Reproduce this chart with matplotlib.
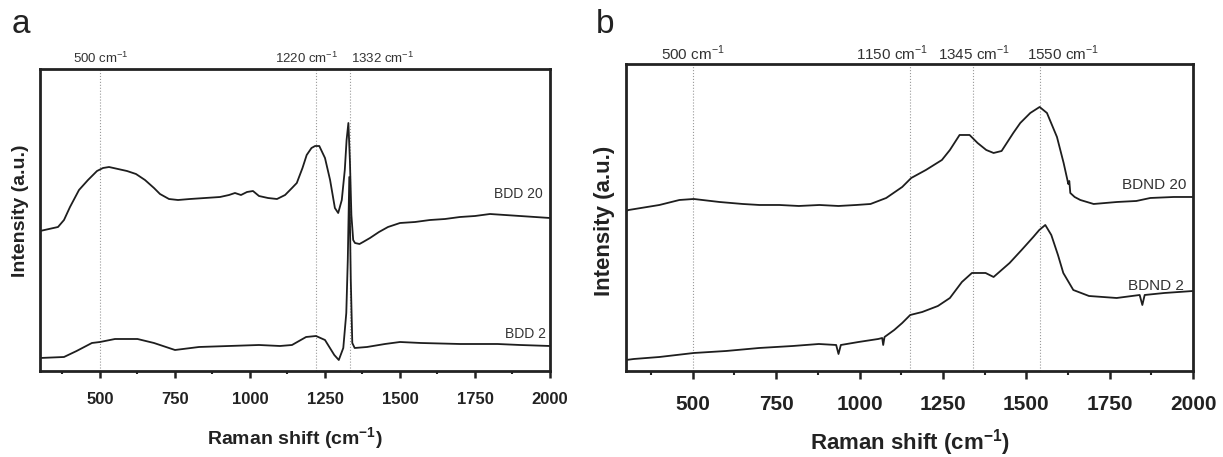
import matplotlib
matplotlib.use("Agg")
import matplotlib.pyplot as plt
import matplotlib.transforms as mtransforms

plt.rcParams['font.family'] = ['Liberation Sans', 'DejaVu Sans']
plt.rcParams['mathtext.fontset'] = 'custom'
plt.rcParams['mathtext.rm'] = 'Liberation Sans'
plt.rcParams['mathtext.bf'] = 'Liberation Sans:bold'

# panel a: BDD films (Raman shift in cm-1, intensity in a.u.)
bdd20_x = [300, 330, 360, 380, 400, 430, 460, 490, 510, 530, 560, 590, 620, 650, 680,
           700, 730, 760, 800, 850, 900, 930, 950, 970, 990, 1010, 1030, 1060, 1090,
           1117, 1140, 1156, 1175, 1189, 1205, 1217, 1231, 1250, 1267, 1283, 1294,
           1306, 1316, 1322, 1328, 1333, 1338, 1344, 1350, 1365, 1377, 1400, 1430,
           1460, 1500, 1550, 1600, 1650, 1700, 1750, 1800, 1850, 1900, 1950, 2000]
bdd20_y = [140, 142, 144, 151, 164, 181, 191, 200, 203, 204, 202, 200, 197, 191, 183,
           177, 172, 171, 172, 173, 174, 176, 178, 176, 179, 180, 175, 173, 172,
           176, 183, 188, 203, 216, 223, 225, 225, 213, 191, 163, 158,
           171, 201, 231, 248, 211, 156, 131, 128, 127, 129, 133, 139,
           144, 148, 149, 151, 152, 154, 155, 157, 156, 155, 154, 153]

bdd2_x = [300, 380, 422, 473, 500, 550, 625, 680, 750, 830, 930, 1030, 1100, 1140,
          1187, 1220, 1250, 1281, 1296, 1311, 1321, 1326, 1331, 1336, 1341, 1349,
          1390, 1450, 1500, 1570, 1700, 1825, 1900, 2000]
bdd2_y = [13, 14, 20, 28, 29, 32, 32, 28, 21, 24, 25, 26, 25, 26,
          34, 35, 31, 16, 11, 23, 58, 111, 194, 91, 28, 23,
          24, 27, 29, 28, 27, 27, 26, 25]

# panel b: BDND films
bdnd20_x = [300, 308, 400, 460, 503, 580, 650, 700, 760, 818, 880, 937, 990, 1033,
            1080, 1128, 1155, 1199, 1247, 1271, 1300, 1330, 1354, 1380, 1402, 1426,
            1461, 1482, 1512, 1540, 1562, 1592, 1612, 1626, 1629, 1632, 1645, 1662,
            1702, 1772, 1830, 1872, 1942, 2000]
bdnd20_y = [160, 161, 166, 171, 172, 169, 167, 166, 166, 165, 166, 165, 166, 167,
            173, 184, 193, 201, 211, 221, 236, 236, 228, 221, 218, 220,
            238, 248, 258, 264, 258, 234, 208, 187, 190, 178, 174, 171,
            167, 169, 170, 173, 174, 174]

bdnd2_x = [300, 323, 400, 503, 600, 699, 800, 878, 930, 937, 944, 997, 1056, 1068,
           1071, 1075, 1104, 1128, 1152, 1188, 1235, 1271, 1307, 1337, 1378, 1402,
           1450, 1486, 1521, 1539, 1557, 1575, 1595, 1611, 1641, 1688, 1771, 1840,
           1848, 1855, 1914, 2000]
bdnd2_y = [11, 12, 14, 18, 20, 23, 25, 27, 26, 17, 26, 29, 32, 33,
           26, 34, 41, 48, 56, 59, 65, 73, 89, 98, 98, 94,
           108, 121, 134, 141, 146, 136, 116, 98, 81, 75, 73, 76,
           66, 76, 78, 80]

# marked band positions and their labels
a_lines = [500, 1220, 1332]
a_line_labels = ['500 cm$^{-1}$', '1220 cm$^{-1}$', '1332 cm$^{-1}$']
a_label_x = [502, 1188, 1442]
b_lines = [500, 1152, 1340, 1540]
b_line_labels = ['500 cm$^{-1}$', '1150 cm$^{-1}$', '1345 cm$^{-1}$', '1550 cm$^{-1}$']
b_label_x = [500, 1098, 1345, 1611]

fig = plt.figure(figsize=(12.23, 4.57), dpi=100)
ax_a = fig.add_axes([0.0327, 0.1882, 0.417, 0.6608])
ax_b = fig.add_axes([0.5119, 0.1882, 0.4636, 0.6718])

line_col = '#1e1e1e'


def style_axis(ax, ylim, tick_fs, label_fs, pad, major_len):
    ax.set_xlim(300, 2000)
    ax.set_ylim(*ylim)
    ax.set_xticks([500, 750, 1000, 1250, 1500, 1750, 2000])
    ax.set_xticks([375, 625, 875, 1125, 1375, 1625, 1875], minor=True)
    ax.set_yticks([])
    for s in ax.spines.values():
        s.set_linewidth(2.0)
        s.set_color('#222222')
    ax.tick_params(axis='x', which='major', direction='out', length=major_len,
                   width=1.8, pad=pad, labelsize=tick_fs, colors='#222222')
    ax.tick_params(axis='x', which='minor', direction='out', length=major_len / 2,
                   width=1.5, colors='#222222')
    for t in ax.get_xticklabels():
        t.set_fontweight('bold')
    ax.set_xlabel(r'Raman shift (cm$^{\mathbf{-1}}$)', fontsize=label_fs,
                  fontweight='bold', color='#222222')
    ax.set_ylabel('Intensity (a.u.)', fontsize=label_fs, fontweight='bold',
                  color='#222222')


# ---- panel a ----
style_axis(ax_a, (0, 302), 12, 14, 10, 5)
for xv in a_lines:
    ax_a.axvline(xv, color='#999999', lw=0.8, ls=':')
ax_a.plot(bdd20_x, bdd20_y, color=line_col, lw=1.3)
ax_a.plot(bdd2_x, bdd2_y, color=line_col, lw=1.3)
ax_a.text(1895, 177, 'BDD 20', fontsize=10, color='#333333', ha='center', va='center')
ax_a.text(1919, 37, 'BDD 2', fontsize=10, color='#333333', ha='center', va='center')
trans_a = mtransforms.blended_transform_factory(ax_a.transData, ax_a.transAxes)
for xv, lab in zip(a_label_x, a_line_labels):
    ax_a.text(xv, 1.036, lab, transform=trans_a, fontsize=9.5, color='#333333',
              ha='center', va='center')
ax_a.xaxis.set_label_coords(0.5, -0.179)
ax_a.yaxis.set_label_coords(-0.022, 0.53)

# ---- panel b ----
style_axis(ax_b, (0, 307), 15, 16, 11, 6)
for xv in b_lines:
    ax_b.axvline(xv, color='#999999', lw=0.8, ls=':')
ax_b.plot(bdnd20_x, bdnd20_y, color=line_col, lw=1.3)
ax_b.plot(bdnd2_x, bdnd2_y, color=line_col, lw=1.3)
ax_b.text(1884, 186, 'BDND 20', fontsize=11, color='#333333', ha='center', va='center')
ax_b.text(1890, 85, 'BDND 2', fontsize=11, color='#333333', ha='center', va='center')
trans_b = mtransforms.blended_transform_factory(ax_b.transData, ax_b.transAxes)
for xv, lab in zip(b_label_x, b_line_labels):
    ax_b.text(xv, 1.036, lab, transform=trans_b, fontsize=11, color='#333333',
              ha='center', va='center')
ax_b.xaxis.set_label_coords(0.5, -0.182)
ax_b.yaxis.set_label_coords(-0.02, 0.49)

# panel letters
fig.text(0.0095, 0.928, 'a', fontsize=24, color='#222222', va='baseline')
fig.text(0.487, 0.928, 'b', fontsize=24, color='#222222', va='baseline')

fig.savefig('out.png', dpi=100)
